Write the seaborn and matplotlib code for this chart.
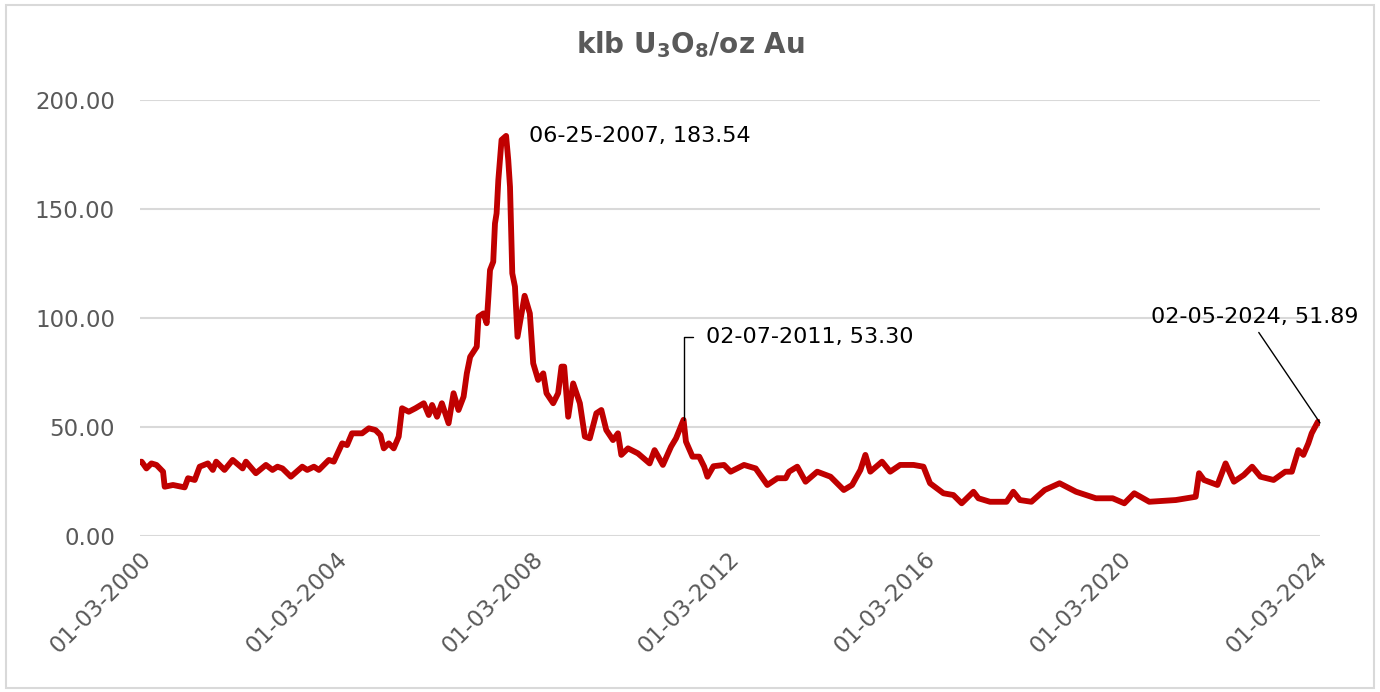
import pandas as pd
import matplotlib
matplotlib.use("Agg")
import matplotlib.pyplot as plt
import matplotlib.dates as mdates
from matplotlib.patches import Rectangle
import seaborn as sns

# klb U3O8 per oz Au
dates = [
    "2000-01-03", "2000-01-15", "2000-02-20", "2000-03-28", "2000-05-05", "2000-06-23",
    "2000-07-05", "2000-09-05", "2000-12-01", "2000-12-26", "2001-02-14", "2001-03-23",
    "2001-05-23", "2001-06-29", "2001-07-24", "2001-09-24", "2001-11-24", "2002-02-06",
    "2002-03-03", "2002-05-16", "2002-07-30", "2002-09-17", "2002-10-24", "2002-11-30",
    "2003-02-01", "2003-04-27", "2003-06-03", "2003-07-23", "2003-08-29", "2003-11-11",
    "2003-12-18", "2004-02-19", "2004-03-26", "2004-05-02", "2004-07-16", "2004-09-04",
    "2004-10-24", "2004-11-30", "2004-12-25", "2005-01-31", "2005-03-09", "2005-04-15",
    "2005-05-10", "2005-06-29", "2005-08-18", "2005-10-19", "2005-11-25", "2005-12-20",
    "2006-01-26", "2006-03-03", "2006-04-22", "2006-05-29", "2006-07-05", "2006-08-12",
    "2006-09-05", "2006-09-30", "2006-11-18", "2006-12-01", "2007-01-07", "2007-01-31",
    "2007-02-13", "2007-02-25", "2007-03-21", "2007-04-03", "2007-04-15", "2007-04-28",
    "2007-05-22", "2007-06-25", "2007-07-11", "2007-07-24", "2007-08-10", "2007-08-30",
    "2007-09-18", "2007-11-10", "2007-12-19", "2008-01-13", "2008-02-19", "2008-03-28",
    "2008-04-21", "2008-06-10", "2008-07-17", "2008-08-11", "2008-08-31", "2008-09-30",
    "2008-11-06", "2008-12-26", "2009-02-01", "2009-03-10", "2009-04-28", "2009-06-04",
    "2009-07-11", "2009-08-30", "2009-10-06", "2009-10-31", "2009-12-20", "2010-03-04",
    "2010-05-30", "2010-07-06", "2010-09-06", "2010-11-06", "2010-12-13", "2011-02-07",
    "2011-02-25", "2011-04-15", "2011-06-04", "2011-07-11", "2011-08-04", "2011-09-18",
    "2011-12-06", "2012-01-24", "2012-05-03", "2012-07-29", "2012-10-24", "2013-01-07",
    "2013-03-10", "2013-04-04", "2013-06-04", "2013-08-05", "2013-10-31", "2014-02-07",
    "2014-05-17", "2014-07-18", "2014-09-18", "2014-10-25", "2014-12-01", "2015-02-26",
    "2015-04-28", "2015-07-11", "2015-10-19", "2016-01-01", "2016-02-19", "2016-05-29",
    "2016-08-11", "2016-10-12", "2017-01-08", "2017-02-14", "2017-05-11", "2017-09-12",
    "2017-11-01", "2017-12-20", "2018-03-16", "2018-06-23", "2018-10-12", "2019-02-12",
    "2019-07-10", "2019-11-12", "2020-02-07", "2020-04-21", "2020-08-11", "2021-02-25",
    "2021-07-23", "2021-08-17", "2021-09-23", "2022-01-01", "2022-03-03", "2022-05-04",
    "2022-07-17", "2022-09-17", "2022-11-18", "2023-02-24", "2023-05-22", "2023-07-10",
    "2023-08-28", "2023-10-04", "2023-11-10", "2023-12-05", "2024-01-20", "2024-02-05",
]
ratio = [
    34.0, 34.1, 31.0, 33.3, 32.6, 29.5,
    22.6, 23.4, 22.3, 26.5, 25.7, 31.8,
    33.3, 30.3, 34.1, 30.3, 34.9, 31.0,
    34.1, 28.8, 32.6, 30.3, 31.8, 31.0,
    27.2, 31.8, 30.3, 31.8, 30.3, 34.9,
    34.1, 42.5, 41.7, 47.1, 47.1, 49.4,
    48.6, 46.3, 40.2, 42.5, 40.2, 45.6,
    58.6, 57.0, 58.6, 60.9, 55.5, 60.1,
    54.7, 60.9, 51.7, 65.5, 57.8, 63.9,
    74.6, 82.2, 86.8, 100.6, 102.1, 97.6,
    109.8, 122.0, 125.8, 143.4, 148.0, 163.3,
    181.7, 183.54, 172.5, 160.2, 120.5, 114.4,
    91.4, 110.2, 102.1, 79.2, 71.6, 74.6,
    65.5, 60.9, 65.5, 77.7, 77.7, 54.7,
    70.0, 60.9, 45.6, 44.8, 56.3, 57.8,
    48.6, 44.0, 47.1, 37.2, 40.2, 37.9,
    33.3, 39.4, 32.6, 41.0, 44.8, 53.30,
    43.3, 36.4, 36.4, 31.8, 27.2, 32.0,
    32.6, 29.5, 32.6, 31.0, 23.4, 26.5,
    26.5, 29.5, 31.8, 24.9, 29.5, 27.2,
    21.1, 23.4, 30.3, 37.2, 29.5, 34.1,
    29.5, 32.6, 32.6, 31.8, 24.2, 19.6,
    18.8, 15.0, 20.3, 17.3, 15.7, 15.7,
    20.3, 16.5, 15.7, 21.1, 24.2, 20.3,
    17.3, 17.3, 15.0, 19.6, 15.7, 16.5,
    18.0, 28.8, 25.7, 23.4, 33.3, 24.9,
    28.0, 31.8, 27.2, 25.7, 29.5, 29.5,
    39.4, 37.2, 42.5, 47.1, 52.4, 51.89,
]

tick_years = [2000, 2004, 2008, 2012, 2016, 2020, 2024]
y_ticks = [0, 50, 100, 150, 200]

callouts = [
    ("2007-06-25", 183.54, "06-25-2007, 183.54"),
    ("2011-02-07", 53.30, "02-07-2011, 53.30"),
    ("2024-02-05", 51.89, "02-05-2024, 51.89"),
]

df = pd.DataFrame({"Date": pd.to_datetime(dates), "Ratio": ratio})

sns.set_theme(style="white")
plt.rcParams["font.family"] = ["DejaVu Sans"]

fig = plt.figure(figsize=(13.8, 6.92), dpi=100)
ax = fig.add_axes([140 / 1380, 1 - 536 / 692, 1180 / 1380, 436 / 692])

sns.lineplot(data=df, x="Date", y="Ratio", color="#C00000", linewidth=4.2, ax=ax)

ax.set_xlim(pd.Timestamp("2000-01-03"), pd.Timestamp("2024-02-05"))
ax.set_ylim(0, 200)
ax.set_yticks(y_ticks)
ax.yaxis.set_major_formatter(matplotlib.ticker.FormatStrFormatter("%.2f"))
ax.set_xticks([pd.Timestamp(f"{y}-01-03") for y in tick_years])
ax.xaxis.set_major_formatter(mdates.DateFormatter("%m-%d-%Y"))
ax.grid(axis="y", color="#D9D9D9", linewidth=1.5)
ax.grid(axis="x", visible=False)
ax.set_axisbelow(True)
for s in ax.spines.values():
    s.set_visible(False)
ax.tick_params(axis="y", length=0, pad=18, labelsize=16.5, labelcolor="#595959")
ax.tick_params(axis="x", length=0, pad=8, labelsize=16.5, labelcolor="#595959")
plt.setp(ax.get_xticklabels(), rotation=45, ha="right", va="top", rotation_mode="anchor")
ax.set_xlabel("")
ax.set_ylabel("")

# data callouts
d, v, t = callouts[0]
ax.annotate(t, xy=(pd.Timestamp(d), v), xytext=(23, 0), textcoords="offset pixels",
            ha="left", va="center", fontsize=16, color="black")
d, v, t = callouts[1]
ax.annotate(t, xy=(pd.Timestamp(d), v), xytext=(22, 83), textcoords="offset pixels",
            ha="left", va="center", fontsize=16, color="black",
            arrowprops=dict(arrowstyle="-", color="black", lw=1,
                            connectionstyle="angle,angleA=0,angleB=90,rad=0",
                            relpos=(0, 0.5), shrinkA=7, shrinkB=0))
d, v, t = callouts[2]
ax.annotate(t, xy=(pd.Timestamp(d), v), xytext=(-65, 106), textcoords="offset pixels",
            ha="center", va="center", fontsize=16, color="black",
            arrowprops=dict(arrowstyle="-", color="black", lw=1,
                            relpos=(0.5, 0), shrinkA=2, shrinkB=0))

fig.text(0.5, 1 - 45 / 692, r"klb U$_\mathbf{3}$O$_\mathbf{8}$/oz Au", ha="center", va="center",
         fontsize=20, fontweight="bold", color="#595959")

fig.patches.append(Rectangle((6 / 1380, 4 / 692), 1368 / 1380, 683 / 692, transform=fig.transFigure,
                             fill=False, edgecolor="#D9D9D9", linewidth=1.5))

fig.savefig("out.png", dpi=100)
